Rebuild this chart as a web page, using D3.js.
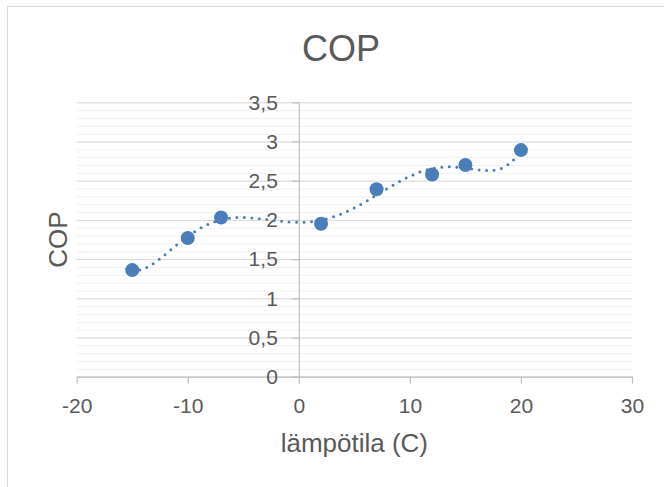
<!DOCTYPE html>
<html>
<head>
<meta charset="utf-8">
<script src="https://cdn.jsdelivr.net/npm/d3@7/dist/d3.min.js"></script>
<style>
  html, body { margin: 0; padding: 0; background: #fff; }
  svg { display: block; }
  text { font-family: "Liberation Sans", Arial, sans-serif; fill: #595959; }
</style>
</head>
<body>
<svg id="chart" width="664" height="487"></svg>
<script>
// Measured COP at outdoor temperature (°C)
const temperatures = [-15, -10, -7, 2, 7, 12, 15, 20];
const copValues = [1.36, 1.77, 2.03, 1.95, 2.39, 2.58, 2.70, 2.89];
const xTicks = [-20, -10, 0, 10, 20, 30];
const yTicks = [0, 0.5, 1, 1.5, 2, 2.5, 3, 3.5];
const yMinorTicks = d3.range(0, 3.5001, 0.1);
const trendOrder = 6;
const chartTitle = "COP";
const xTitle = "lämpötila (C)";
const yTitle = "COP";

const W = 664, H = 487;
const plot = { left: 76.7, right: 632, top: 102.3, bottom: 376.7 };

const fi = d3.formatLocale({ decimal: ",", thousands: "\u00a0", grouping: [3], currency: ["", "€"], minus: "-" });
const fmt = fi.format("~g");

// least-squares polynomial fit (x scaled by 1/20 for conditioning)
function polyFit(xs, ys, order) {
  const n = order + 1, s = 20;
  const A = Array.from({ length: n }, () => new Array(n + 1).fill(0));
  xs.forEach((xv, k) => {
    const t = xv / s;
    for (let i = 0; i < n; i++) {
      for (let j = 0; j < n; j++) A[i][j] += Math.pow(t, i + j);
      A[i][n] += ys[k] * Math.pow(t, i);
    }
  });
  for (let c = 0; c < n; c++) {
    let p = c;
    for (let r = c + 1; r < n; r++) if (Math.abs(A[r][c]) > Math.abs(A[p][c])) p = r;
    [A[c], A[p]] = [A[p], A[c]];
    for (let r = 0; r < n; r++) {
      if (r === c) continue;
      const f = A[r][c] / A[c][c];
      for (let j = c; j <= n; j++) A[r][j] -= f * A[c][j];
    }
  }
  const coef = A.map((row, i) => row[n] / row[i]);
  return xv => coef.reduce((acc, a, i) => acc + a * Math.pow(xv / s, i), 0);
}

const svg = d3.select("#chart");

// chart area frame
svg.append("rect")
  .attr("x", 7.5).attr("y", 6.5)
  .attr("width", W + 20).attr("height", H + 20)
  .attr("fill", "#fff").attr("stroke", "#d9d9d9").attr("stroke-width", 1);

const x = d3.scaleLinear().domain([-20, 30]).range([plot.left, plot.right]);
const y = d3.scaleLinear().domain([0, 3.5]).range([plot.bottom, plot.top]);

// minor gridlines
svg.append("g")
  .attr("transform", `translate(${plot.left},0)`)
  .call(d3.axisLeft(y).tickValues(yMinorTicks).tickSize(-(plot.right - plot.left)).tickFormat(""))
  .call(g => g.select(".domain").remove())
  .call(g => g.selectAll("line").attr("stroke", "#f0f0f0").attr("stroke-width", 1));

// major gridlines
svg.append("g")
  .attr("transform", `translate(${plot.left},0)`)
  .call(d3.axisLeft(y).tickValues(yTicks).tickSize(-(plot.right - plot.left)).tickFormat(""))
  .call(g => g.select(".domain").remove())
  .call(g => g.selectAll("line").attr("stroke", "#d9d9d9").attr("stroke-width", 1));

// horizontal axis
const xAxis = svg.append("g")
  .attr("transform", `translate(0,${plot.bottom})`)
  .call(d3.axisBottom(x).tickValues(xTicks).tickSize(7).tickSizeOuter(0).tickPadding(14).tickFormat(fmt));
xAxis.select(".domain").attr("stroke", "#bfbfbf").attr("stroke-width", 1.2);
xAxis.selectAll(".tick line").attr("stroke", "#bfbfbf").attr("stroke-width", 1.2);
xAxis.selectAll(".tick text").attr("font-size", 21).attr("fill", "#595959")
  .attr("font-family", "Liberation Sans, Arial, sans-serif");

// vertical axis, crossing at x = 0
const yAxis = svg.append("g")
  .attr("transform", `translate(${x(0)},0)`)
  .call(d3.axisLeft(y).tickValues(yTicks).tickSize(7).tickSizeOuter(0).tickPadding(14).tickFormat(fmt));
yAxis.select(".domain").attr("stroke", "#bfbfbf").attr("stroke-width", 1.2);
yAxis.selectAll(".tick line").attr("stroke", "#bfbfbf").attr("stroke-width", 1.2);
yAxis.selectAll(".tick text").attr("font-size", 21).attr("fill", "#595959")
  .attr("font-family", "Liberation Sans, Arial, sans-serif");

// polynomial trendline, dotted
const trend = polyFit(temperatures, copValues, trendOrder);
const [x0, x1] = d3.extent(temperatures);
const trendPts = d3.range(0, 201).map(i => {
  const xv = x0 + (x1 - x0) * i / 200;
  return [xv, trend(xv)];
});
svg.append("path")
  .datum(trendPts)
  .attr("d", d3.line().x(d => x(d[0])).y(d => y(d[1])))
  .attr("fill", "none")
  .attr("stroke", "#4a7ebb")
  .attr("stroke-width", 3)
  .attr("stroke-linecap", "round")
  .attr("stroke-dasharray", "0 7.5");

// markers
const pts = temperatures.map((t, i) => [t, copValues[i]]);
svg.append("g").selectAll("circle")
  .data(pts)
  .join("circle")
  .attr("cx", d => x(d[0])).attr("cy", d => y(d[1]))
  .attr("r", 7)
  .attr("fill", "#4a7ebb");

// titles
svg.append("text")
  .attr("x", 341).attr("y", 60.5)
  .attr("text-anchor", "middle")
  .attr("font-size", 36)
  .text(chartTitle);

svg.append("text")
  .attr("x", (plot.left + plot.right) / 2).attr("y", 452)
  .attr("text-anchor", "middle")
  .attr("font-size", 26)
  .text(xTitle);

svg.append("text")
  .attr("transform", `translate(66.5,${(plot.top + plot.bottom) / 2}) rotate(-90)`)
  .attr("text-anchor", "middle")
  .attr("font-size", 26)
  .text(yTitle);
</script>
</body>
</html>
